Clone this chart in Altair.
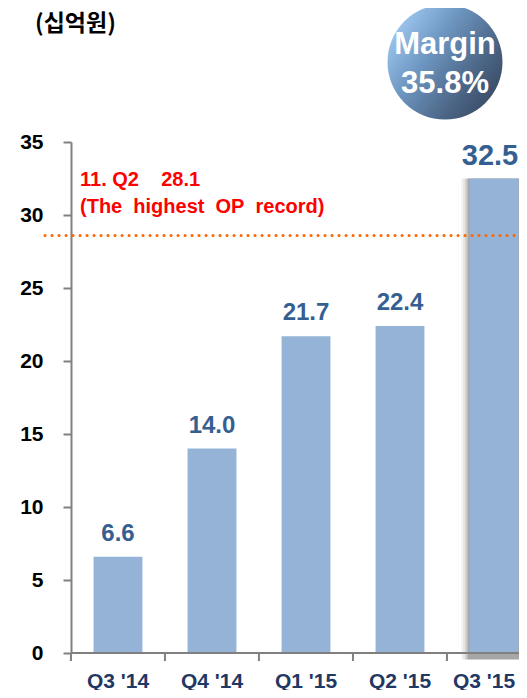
import altair as alt
import pandas as pd

quarters = ["Q3 '14", "Q4 '14", "Q1 '15", "Q2 '15", "Q3 '15"]
op_values = [6.6, 14.0, 21.7, 22.4, 32.5]
value_labels = ["6.6", "14.0", "21.7", "22.4", "32.5"]
y_ticks = [0, 5, 10, 15, 20, 25, 30, 35]
record_line = [28.6]
record_texts = ["11.\u00a0Q2\u00a0\u00a0\u00a0\u00a028.1", "(The\u00a0 highest\u00a0 OP\u00a0 record)"]
unit_title = "(십억원)"
margin_texts = ["Margin", "35.8%"]

FONT = "Liberation Sans"
W, H = 448, 511

df = pd.DataFrame({"q": quarters, "v": op_values, "lab": value_labels})
first = df.iloc[:-1]
last = df.iloc[[-1]]

xscale = alt.Scale(domain=quarters, range=[0, 470], paddingInner=0.48, paddingOuter=0.24)
yscale = alt.Scale(domain=[0, 35], nice=False)

x_axis = alt.Axis(title=None, labelAngle=0, labelFont=FONT, labelFontWeight="bold",
                  labelFontSize=21, labelColor="#1F3864", domain=False, ticks=False,
                  labelPadding=17, grid=False,
                  labelOffset={"condition": {"test": "datum.label == \"Q3 '15\"", "value": -10}, "value": 0})
y_axis = alt.Axis(title=None, values=y_ticks, labelFont=FONT, labelFontWeight="bold",
                  labelFontSize=21, labelColor="#000000", domainColor="#808080",
                  domainWidth=2, tickColor="#808080", tickWidth=2, tickSize=8,
                  labelPadding=20, grid=False)

x_enc = alt.X("q:N", scale=xscale, sort=quarters, axis=x_axis)
y_enc = alt.Y("v:Q", scale=yscale, axis=y_axis)

base = alt.Chart(df)

shadows = []
for sz, op in [(66, 0.04), (62, 0.06), (58, 0.08), (55, 0.1), (52, 0.12)]:
    shadows.append(
        alt.Chart(last).mark_bar(size=sz, color="#000000", opacity=op).encode(
            x=x_enc, y=y_enc, y2=alt.datum(-0.45),
        )
    )

bars = base.mark_bar(color="#95B3D7").encode(x=x_enc, y=y_enc)

x_domain = alt.Chart(pd.DataFrame({"a": [0]})).mark_rule(color="#808080", strokeWidth=2).encode(
    x=alt.value(0), x2=alt.value(W), y=alt.value(H)
)
x_ticks = base.mark_rule(color="#808080", strokeWidth=2, xOffset=-22.6).encode(
    x=alt.X("q:N", scale=xscale, sort=quarters, bandPosition=0, axis=x_axis),
    y=alt.value(H), y2=alt.value(H + 8),
)

labels = alt.Chart(first).mark_text(font=FONT, fontWeight="bold", fontSize=24, color="#365F91",
                                    baseline="middle", dy=-23).encode(
    x=x_enc, y=y_enc, text="lab:N",
)
label_last = alt.Chart(last).mark_text(font=FONT, fontWeight="bold", fontSize=29, color="#365F91",
                                       baseline="middle", dy=-23, dx=-4).encode(
    x=x_enc, y=y_enc, text="lab:N",
)

rule = alt.Chart(pd.DataFrame({"r": record_line})).mark_rule(
    color="#FF6600", strokeWidth=3, strokeDash=[0.1, 6.9], strokeCap="round"
).encode(y=alt.Y("r:Q", scale=yscale, axis=y_axis), x=alt.value(-26), x2=alt.value(W))

rec_df = pd.DataFrame({"t": record_texts, "yy": [38, 65]})
rec_text = alt.Chart(rec_df).mark_text(
    font=FONT, fontWeight="bold", fontSize=20, color="#FF0000", align="left", baseline="middle"
).encode(text="t:N", x=alt.value(9), y=alt.Y("yy:Q", scale=None))

title_text = alt.Chart(pd.DataFrame({"t": [unit_title]})).mark_text(
    font="Noto Sans CJK KR", fontWeight="bold", fontSize=23, color="#000000", align="left", baseline="middle"
).encode(text="t:N", x=alt.value(-36), y=alt.value(-118))

bubble = alt.Chart(pd.DataFrame({"a": [1]})).mark_point(
    shape="circle", filled=True, size=13225, opacity=1, strokeWidth=0,
    fill=alt.LinearGradient(
        gradient="linear", x1=0, y1=0.15, x2=1, y2=0.85,
        stops=[alt.GradientStop(color="#A8D0F8", offset=0),
               alt.GradientStop(color="#7099C4", offset=0.35),
               alt.GradientStop(color="#4D6788", offset=0.7),
               alt.GradientStop(color="#34465E", offset=1)],
    ),
).encode(x=alt.value(374), y=alt.value(-80))

m_df = pd.DataFrame({"t": margin_texts, "yy": [-97, -58]})
margin_text = alt.Chart(m_df).mark_text(
    font=FONT, fontWeight="bold", fontSize=31, color="#FFFFFF", align="center", baseline="middle"
).encode(text="t:N", x=alt.value(374), y=alt.Y("yy:Q", scale=None))

chart = alt.layer(*shadows, bars, x_domain, x_ticks, labels, label_last, rule, rec_text, title_text,
                  bubble, margin_text).properties(
    width=W, height=H,
    autosize=alt.AutoSizeParams(type="none"),
    padding={"left": 63, "top": 134, "right": 0, "bottom": 37},
).configure_view(stroke=None)

chart.save("out.html", embed_options={"renderer": "svg", "actions": False})
